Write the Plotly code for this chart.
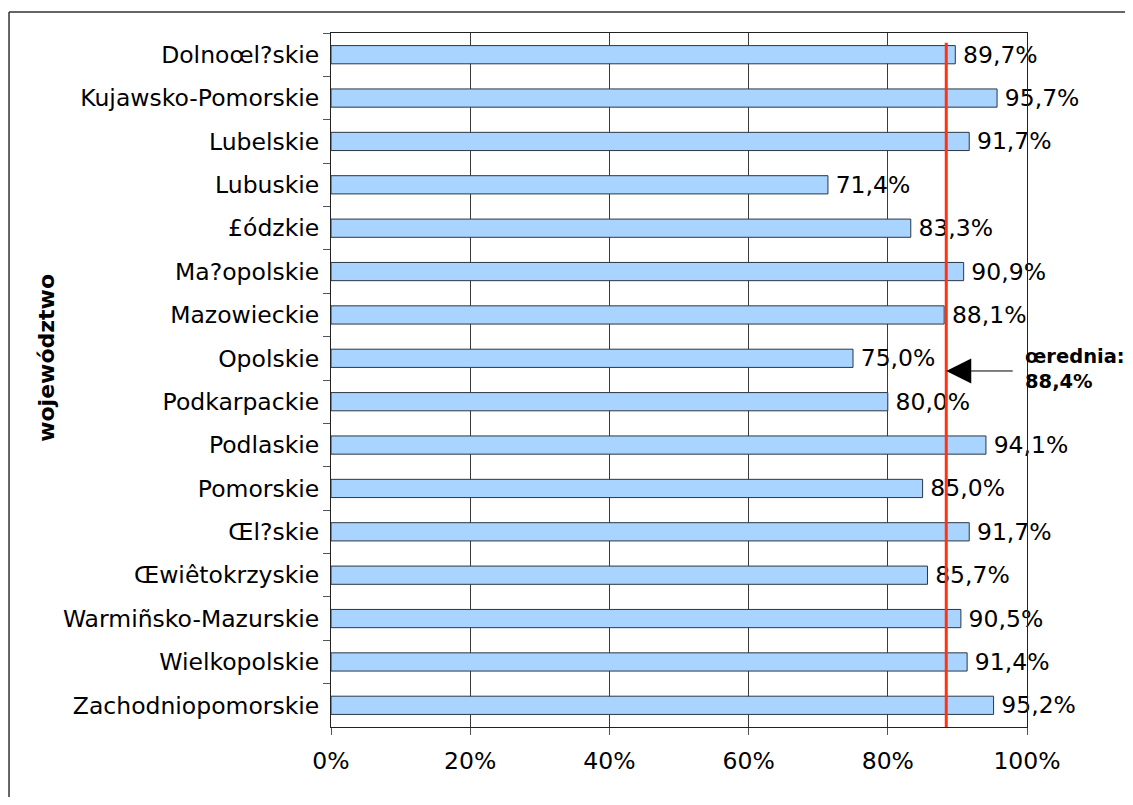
"""Horizontal bar chart: share per voivodeship with the average marked."""

import plotly.graph_objects as go

# Chart data
wojewodztwa = [
    "Dolnoœl?skie", "Kujawsko-Pomorskie", "Lubelskie", "Lubuskie", "£ódzkie",
    "Ma?opolskie", "Mazowieckie", "Opolskie", "Podkarpackie", "Podlaskie",
    "Pomorskie", "Œl?skie", "Œwiêtokrzyskie", "Warmiñsko-Mazurskie",
    "Wielkopolskie", "Zachodniopomorskie",
]
procent = [89.7, 95.7, 91.7, 71.4, 83.3, 90.9, 88.1, 75.0,
           80.0, 94.1, 85.0, 91.7, 85.7, 90.5, 91.4, 95.2]
srednia = 88.4
x_ticks = [0, 20, 40, 60, 80, 100]
x_ticktext = [f"{v}%" for v in x_ticks]

FONT = "DejaVu Sans"
SIZE = 23.5

def fmt_pct(v):
    """Polish style percent label, e.g. 89,7%."""
    return f"{v:.1f}".replace(".", ",") + "%"

fig = go.Figure()
fig.add_trace(go.Bar(
    x=procent,
    y=wojewodztwa,
    orientation="h",
    marker=dict(color="#a9d4ff", line=dict(color="#2b3644", width=1)),
    text=["\u2009" + fmt_pct(v) for v in procent],
    textposition="outside",
    textfont=dict(family=FONT, size=SIZE, color="black"),
    constraintext="none",
    cliponaxis=False,
    showlegend=False,
))

# average line
fig.add_shape(type="line", xref="x", yref="paper",
              x0=srednia, x1=srednia, y0=0, y1=0.986,
              line=dict(color="#ff3311", width=3), layer="above")

# arrow pointing at the average line
fig.add_annotation(x=srednia, y=0.513, xref="x", yref="paper",
                   ax=68, ay=0, text="", showarrow=True,
                   arrowhead=2, arrowsize=5, arrowwidth=1,
                   arrowcolor="black")
fig.add_annotation(x=0.994, y=0.516, xref="paper", yref="paper",
                   xanchor="left", yanchor="middle", align="left",
                   text="<b>œrednia:<br>" + fmt_pct(srednia) + "</b>",
                   showarrow=False,
                   font=dict(family=FONT, size=19.5, color="black"))

# y axis title, placed by hand like in the original
fig.add_annotation(x=-0.408, y=0.532, xref="paper", yref="paper",
                   xanchor="center", yanchor="middle", textangle=-90,
                   text="<b>województwo</b>", showarrow=False,
                   font=dict(family=FONT, size=22, color="black"))

# outer frame of the chart: only its top and left edges are in view
frame = dict(color="#333333", width=1.5)
fig.add_shape(type="line", xref="paper", yref="paper",
              x0=-0.4626, x1=1.5, y0=1.0303, y1=1.0303, line=frame)
fig.add_shape(type="line", xref="paper", yref="paper",
              x0=-0.4626, x1=-0.4626, y0=-0.5, y1=1.0303, line=frame)

# page body has an 8px margin, so the figure is a bit smaller and shifted
fig.update_layout(
    width=1117, height=789,
    margin=dict(l=323, r=98, t=25, b=70),
    paper_bgcolor="white", plot_bgcolor="white",
    bargap=0.58,
    font=dict(family=FONT, size=SIZE, color="black"),
    xaxis=dict(
        range=[0, 100], tickvals=x_ticks, ticktext=x_ticktext,
        showgrid=True, gridcolor="#3a3a3a", gridwidth=1,
        showline=True, linecolor="#222222", linewidth=1, mirror=True,
        ticks="outside", ticklen=7, tickcolor="#555555",
        ticklabelstandoff=6, zeroline=False,
        tickfont=dict(family=FONT, size=SIZE),
    ),
    yaxis=dict(
        autorange="reversed", type="category",
        showline=True, linecolor="#222222", linewidth=1, mirror=True,
        ticks="outside", ticklen=7, tickcolor="#555555", tickson="boundaries",
        ticklabelstandoff=6,
        tickfont=dict(family=FONT, size=SIZE),
    ),
)

fig.write_html("out.html")
